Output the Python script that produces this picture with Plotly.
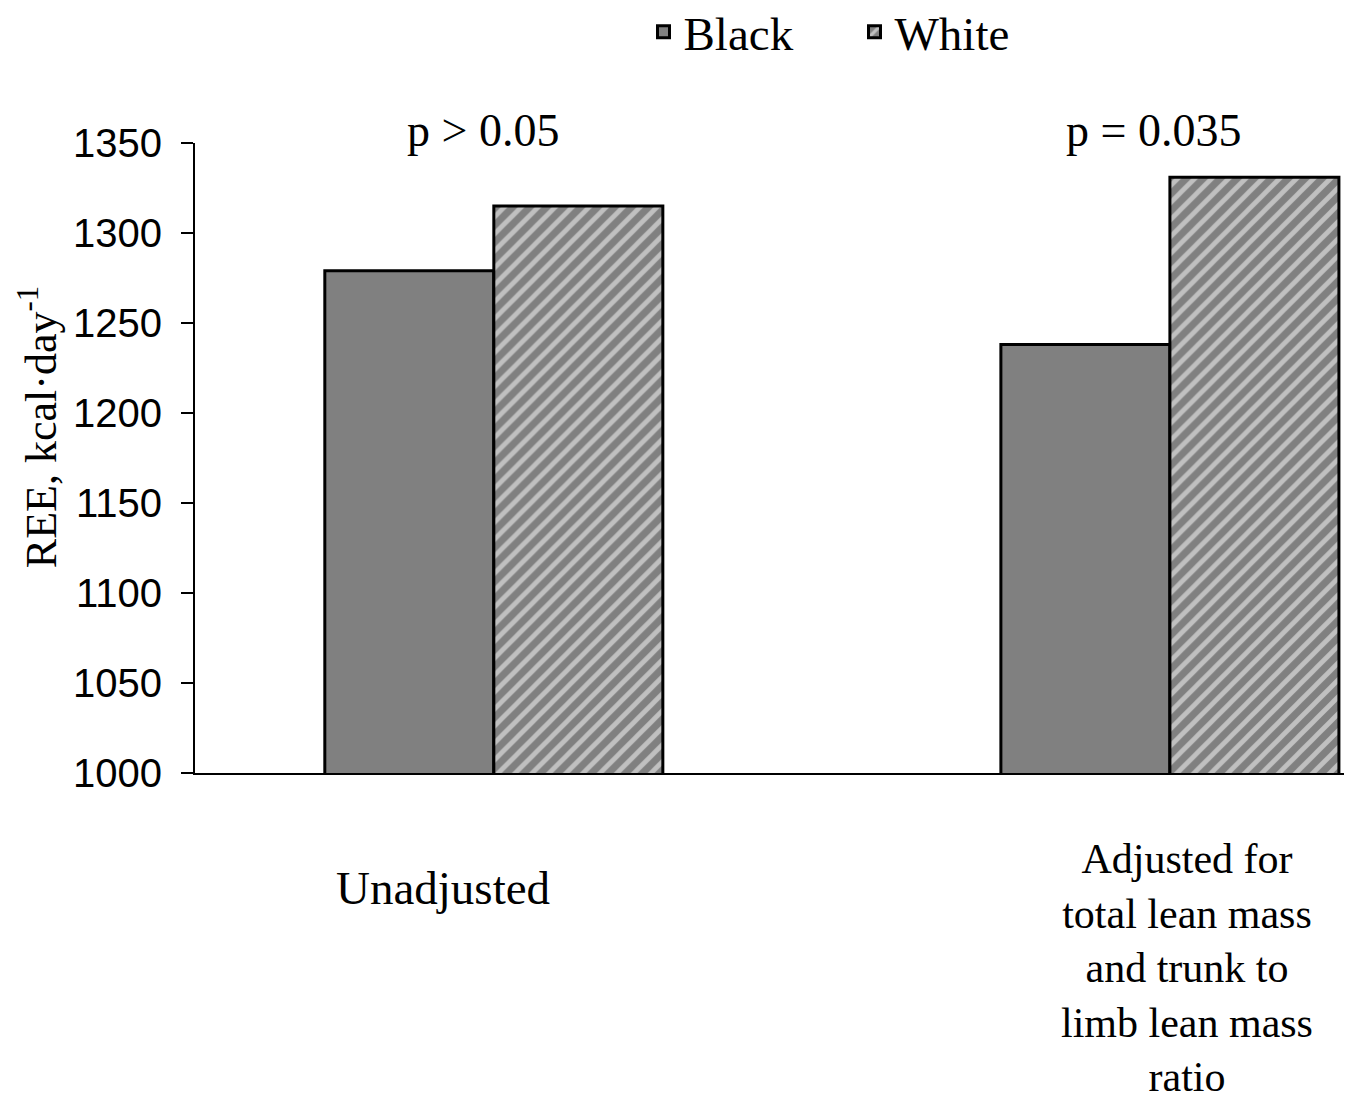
import plotly.graph_objects as go

categories = ["Unadjusted", "Adjusted"]
category_labels = ["Unadjusted",
                   "Adjusted for<br>total lean mass<br>and trunk to<br>limb lean mass<br>ratio"]
black_values = [1279, 1238]
white_values = [1315, 1331]
p_labels = ["p > 0.05", "p = 0.035"]
y_ticks = [1000, 1050, 1100, 1150, 1200, 1250, 1300, 1350]
y_title = "REE, kcal·day<sup>-1</sup>"

SERIF = "Liberation Serif, Times New Roman, serif"
SANS = "Liberation Sans, Arial, sans-serif"

fig = go.Figure()
fig.add_trace(go.Bar(
    x=categories, y=black_values, name="Black",
    marker=dict(color="#808080", line=dict(color="black", width=3)),
))
fig.add_trace(go.Bar(
    x=categories, y=white_values, name="White",
    marker=dict(color="#808080", line=dict(color="black", width=3),
                pattern=dict(shape="/", fgcolor="white", bgcolor="#808080",
                             size=12, solidity=0.4)),
))

# p-value annotations above each group
p_x = [-0.016, 0.975]
for px, txt in zip(p_x, p_labels):
    fig.add_annotation(x=px, xref="x", y=1.02, yref="paper", text=txt,
                       showarrow=False, font=dict(family=SERIF, size=46, color="black"),
                       xanchor="center", yanchor="middle")

# category labels
lab_x = [-0.075, 1.025]
lab_y = [-0.1825, -0.309]
lab_size = [47, 42]
for lx, ly, ls, txt in zip(lab_x, lab_y, lab_size, category_labels):
    fig.add_annotation(x=lx, xref="x", y=ly, yref="paper", text=txt,
                       showarrow=False, font=dict(family=SERIF, size=ls, color="black"),
                       xanchor="center", yanchor="middle", align="center")

# y-axis title
fig.add_annotation(x=-0.1365, xref="paper", y=0.549, yref="paper", text=y_title,
                   textangle=-90, showarrow=False,
                   font=dict(family=SERIF, size=44, color="black"),
                   xanchor="center", yanchor="middle")

fig.update_layout(
    width=1352, height=1102,
    margin=dict(l=187, r=15, t=135, b=337, autoexpand=False),
    paper_bgcolor="white", plot_bgcolor="white",
    barmode="group", bargap=0.5, bargroupgap=0,
    showlegend=True,
    legend=dict(orientation="h", x=0.39, y=1.176, xanchor="left", yanchor="middle",
                font=dict(family=SERIF, size=47, color="black"),
                bgcolor="rgba(0,0,0,0)", entrywidth=166, entrywidthmode="pixels"),
    font=dict(family=SERIF, color="black"),
)
fig.update_xaxes(range=[-0.442, 1.259], showticklabels=False, ticks="",
                 showline=True, linecolor="black", linewidth=2, showgrid=False,
                 zeroline=False, automargin=False)
fig.update_yaxes(range=[1000, 1350], tickvals=y_ticks, ticks="outside", ticklen=12,
                 tickwidth=2, tickcolor="black", ticklabelstandoff=11,
                 showline=True, linecolor="black", linewidth=2, showgrid=False,
                 zeroline=False, automargin=False,
                 tickfont=dict(family=SANS, size=40, color="black"))

fig.write_html("out.html")
